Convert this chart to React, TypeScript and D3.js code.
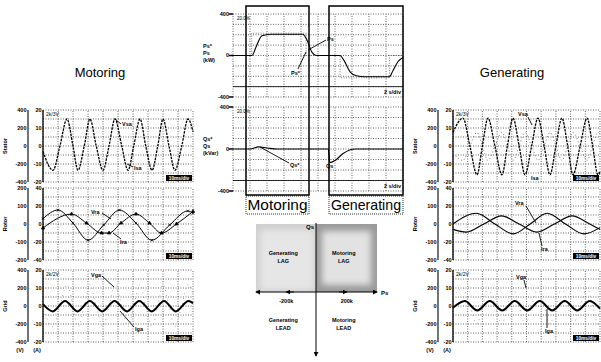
import React from 'react';
import * as d3 from 'd3';

// time in scope divisions (0..10), amplitude in divisions (-4..4)
const motStatorT = [0, 0.67, 1.13, 1.6, 2.0, 2.33, 2.75, 3.13, 3.55, 4.0, 4.4, 4.8, 5.25, 5.67, 6.05, 6.47, 6.85, 7.27, 7.65, 8.0, 8.4, 8.8, 9.25, 9.67, 10];
const motStatorV = [-0.6, -2.7, 0, 3.0, 0, -2.7, 0, 3.0, 0, -2.7, 0, 3.0, 0, -2.7, 0, 3.0, 0, -2.7, 0, 3.0, 0, -2.7, 0, 3.0, 1.6];
const motRotorVT = [0, 1.0, 2.0, 3.0, 4.05, 5.1, 6.2, 7.25, 8.45, 9.65, 10];
const motRotorVV = [0.6, 1.55, 0.1, -1.8, -0.1, 1.55, 0.1, -1.8, -0.1, 1.45, 1.2];
const motRotorIT = [0, 1.9, 2.9, 3.9, 4.4, 5.2, 6.2, 7.1, 7.9, 8.9, 10];
const motRotorIV = [-0.45, 1.1, 0.1, -1.0, -1.0, 0.1, 1.1, 0.1, -1.0, 0, 1.4];
const motGridT = [0, 0.65, 1.47, 2.3, 3.12, 3.95, 4.77, 5.6, 6.42, 7.25, 8.07, 8.85, 9.7, 10];
const motGridV = [0.2, -0.6, 0.55, -0.6, 0.55, -0.6, 0.55, -0.6, 0.55, -0.6, 0.55, -0.6, 0.55, 0.3];
const motGridIV = [-0.4, -2.3, 0, 2.4, 0, -2.3, 0, 2.4, 0, -2.3, 0, 2.4, 0, -2.3, 0, 2.4, 0, -2.3, 0, 2.4, 0, -2.3, 0, 2.4, 1.2];

const genStatorT = [0, 0.68, 1.15, 1.63, 2.0, 2.38, 2.85, 3.33, 3.7, 4.08, 4.5, 4.9, 5.35, 5.78, 6.2, 6.6, 7.0, 7.41, 7.8, 8.16, 8.65, 9.12, 9.5, 9.86, 10];
const genStatorV = [1.5, 3.1, 0, -3.2, 0, 3.1, 0, -3.2, 0, 3.1, 0, -3.2, 0, 3.1, 0, -3.2, 0, 3.1, 0, -3.2, 0, 3.1, 0, -3.2, -2.9];
const genStatorIV = [-0.8, -1.6, 0, 1.5, 0, -1.6, 0, 1.5, 0, -1.6, 0, 1.5, 0, -1.6, 0, 1.5, 0, -1.6, 0, 1.5, 0, -1.6, 0, 1.5, 1.3];
const genRotorVT = [0, 1.6, 2.85, 4.1, 5.25, 6.4, 7.65, 8.9, 10];
const genRotorVV = [0, 1.2, 0, -1.1, 0, 1.2, 0, -1.1, -0.4];
const genRotorIT = [0, 0.9, 2.1, 3.3, 4.5, 5.7, 6.9, 8.1, 9.3, 10];
const genRotorIV = [-0.6, -0.9, 0, 0.9, 0, -0.9, 0, 0.9, 0, -0.6];
const genGridT = [0, 0.8, 1.65, 2.5, 3.35, 4.2, 5.05, 5.9, 6.75, 7.6, 8.45, 9.3, 10];
const genGridV = [-0.2, 0.55, -0.5, 0.55, -0.5, 0.55, -0.5, 0.55, -0.5, 0.55, -0.5, 0.55, -0.3];
const genGridIV = [1.0, 2.0, 0, -2.0, 0, 2.0, 0, -2.0, 0, 2.0, 0, -2.0, 0, 2.0, 0, -2.0, 0, 2.0, 0, -2.0, 0, 2.0, 0, -2.0, -1.6];

// center traces: time in divisions (2 s/div), power in kW / kVar
const psT = [0, 1.12, 1.35, 1.7, 2.2, 4.1, 4.35, 4.65, 4.9, 6.3, 6.5, 6.9, 7.25, 7.75, 9.2, 9.4, 9.7, 10];
const psV = [0, 0, 80, 190, 205, 205, 150, 30, 0, 0, -40, -160, -195, -205, -205, -150, -60, -20];
const psRefT = [0, 1.1, 1.1, 4.3, 4.3, 6.3, 6.3, 9.2, 9.2, 10];
const psRefV = [0, 0, 215, 215, 0, 0, -215, -215, 0, 0];
const qsT = [0, 1.0, 1.5, 2.0, 2.6, 5.6, 5.7, 6.0, 6.5, 7.2, 10];
const qsV = [0, 0, 20, 10, 0, 0, -130, -110, -40, 0, 0];

const statorVTicks = ['400', '200', '0', '-200', '-400'];
const statorATicks = ['20', '10', '0', '-10', '-20'];
const rotorVTicks = ['200', '100', '0', '-100', '-200'];
const rotorATicks = ['40', '20', '0', '-20', '-40'];
const gridVTicks = ['400', '200', '0', '-200', '-400'];
const gridATicks = ['20', '10', '0', '-10', '-20'];
const centerTicks = [400, 0, -400];

const FONT = "'Liberation Sans', Arial, sans-serif";

type Trace = { t: number[]; v: number[]; w?: number; dash?: string; color?: string; marker?: string };
type Note = { s: string; x: number; y: number; l?: number[] };

const zip = (t: number[], v: number[]) => d3.zip(t, v) as [number, number][];

function Grid({ xs, ys, xd, yd }: any) {
  return (
    <g>
      {xd.map((i: number) => (
        <line key={'gx' + i} x1={xs(i)} x2={xs(i)} y1={ys(yd[0])} y2={ys(yd[yd.length - 1])}
          stroke="#222" strokeWidth={0.7} strokeDasharray="1,1.5" />
      ))}
      {yd.map((i: number) => (
        <line key={'gy' + i} x1={xs(xd[0])} x2={xs(xd[xd.length - 1])} y1={ys(i)} y2={ys(i)}
          stroke="#222" strokeWidth={0.7} strokeDasharray="1,1.5" />
      ))}
    </g>
  );
}

function Notes({ notes }: { notes: Note[] }) {
  return (
    <g>
      {notes.map((n, i) => (
        <g key={i}>
          {n.l && <line x1={n.l[0]} y1={n.l[1]} x2={n.l[2]} y2={n.l[3]} stroke="#000" strokeWidth={0.9} />}
          <text x={n.x} y={n.y} fontSize={5.5} fontWeight="bold" fontFamily={FONT}>{n.s}</text>
        </g>
      ))}
    </g>
  );
}

function Scope({ x, y, w, h, name, vTicks, aTicks, traces, notes, stamp }: any) {
  const xs = d3.scaleLinear().domain([0, 10]).range([x, x + w]);
  const ys = d3.scaleLinear().domain([-4, 4]).range([y + h, y]);
  const line = d3.line<[number, number]>().x(d => xs(d[0])).y(d => ys(d[1])).curve(d3.curveMonotoneX);
  const tickVals = [4, 2, 0, -2, -4];
  return (
    <g>
      <Grid xs={xs} ys={ys} xd={d3.range(0, 11)} yd={d3.range(-4, 5)} />
      <line x1={x} x2={x} y1={y} y2={y + h} stroke="#000" strokeWidth={1.3} />
      <line x1={x - 15} x2={x - 15} y1={y} y2={y + h} stroke="#000" strokeWidth={1.1} />
      {tickVals.map((v, i) => (
        <g key={'t' + i}>
          <text x={x - 16.5} y={ys(v)} dy="0.35em" textAnchor="end" fontSize={5.5} fontWeight="bold" fontFamily={FONT}>{vTicks[i]}</text>
          <text x={x - 1.5} y={ys(v)} dy="0.35em" textAnchor="end" fontSize={5.5} fontWeight="bold" fontFamily={FONT}>{aTicks[i]}</text>
        </g>
      ))}
      <text transform={`translate(${x - 36},${y + h / 2}) rotate(-90)`} textAnchor="middle" fontSize={5.5}
        fontWeight="bold" fontFamily={FONT}>{name}</text>
      {traces.map((tr: Trace, i: number) => (
        <g key={'tr' + i}>
          <path d={line(zip(tr.t, tr.v)) || ''} fill="none" stroke={tr.color || '#000'}
            strokeWidth={tr.w || 1} strokeDasharray={tr.dash} />
          {tr.marker && tr.t.map((t, j) => (
            <path key={j} transform={`translate(${xs(t)},${ys(tr.v[j])})`}
              d={d3.symbol().type(tr.marker === 'cross' ? d3.symbolX : d3.symbolTriangle).size(5)() || ''}
              fill={tr.marker === 'cross' ? 'none' : '#000'} stroke="#000" strokeWidth={0.7} />
          ))}
        </g>
      ))}
      <text x={x + 3} y={y + 6} fontSize={5} fontFamily={FONT}>{stamp}</text>
      <rect x={x + w - 27} y={y + h - 7} width={26} height={6} fill="#000" />
      <text x={x + w - 14} y={y + h - 2.3} textAnchor="middle" fontSize={4.8} fontWeight="bold" fill="#fff" fontFamily={FONT}>10ms/div</text>
      <Notes notes={notes} />
    </g>
  );
}

function CenterScope({ y0, y1, labels, traces, notes }: any) {
  const x0 = 233, x1 = 403;
  const xs = d3.scaleLinear().domain([0, 10]).range([x0, x1]);
  const ys = d3.scaleLinear().domain([-400, 400]).range([y1, y0]);
  return (
    <g>
      <Grid xs={xs} ys={ys} xd={d3.range(0, 11)} yd={d3.range(-400, 401, 100)} />
      <line x1={x0} x2={x1} y1={ys(-300)} y2={ys(-300)} stroke="#000" strokeWidth={0.8} />
      {centerTicks.map(v => (
        <g key={v}>
          <line x1={x0 - 4} x2={x0} y1={ys(v)} y2={ys(v)} stroke="#000" strokeWidth={1.5} />
          <text x={x0 - 4} y={ys(v)} dy="0.35em" textAnchor="end" fontSize={5.5} fontWeight="bold" fontFamily={FONT}>{v}</text>
        </g>
      ))}
      {labels.map((s: string, i: number) => (
        <text key={s} x={203} y={ys(0) - 8 + i * 7} fontSize={5.5} fontWeight="bold" fontFamily={FONT}>{s}</text>
      ))}
      {traces.map((tr: any, i: number) => {
        const line = d3.line<[number, number]>().x(d => xs(d[0])).y(d => ys(d[1]))
          .curve(tr.step ? d3.curveLinear : d3.curveMonotoneX);
        return <path key={i} d={line(zip(tr.t, tr.v)) || ''} fill="none" stroke={tr.color || '#000'}
          strokeWidth={tr.w || 1} strokeDasharray={tr.dash} />;
      })}
      <text x={x0 + 4} y={y0 + 6} fontSize={4.5} fontFamily={FONT}>20.0%</text>
      <text x={x1 - 2} y={y1 - 3} textAnchor="end" fontSize={5.5} fontWeight="bold" fontFamily={FONT}>2 s/div</text>
      <Notes notes={notes} />
    </g>
  );
}

function Quadrant() {
  const cx = 316, cy = 292;
  const qx = d3.scaleLinear().domain([-400, 400]).range([256, 377]);
  const qtext = [
    ['Generating', 'LAG', -200, 255], ['Motoring', 'LAG', 200, 255],
    ['Generating', 'LEAD', -200, 322], ['Motoring', 'LEAD', 200, 322],
  ] as [string, string, number, number][];
  return (
    <g>
      <defs>
        <filter id="soft" x="-20%" y="-20%" width="140%" height="140%">
          <feGaussianBlur stdDeviation="3" />
        </filter>
        <marker id="arr" viewBox="0 0 6 6" refX="5" refY="3" markerWidth="5" markerHeight="5" orient="auto-start-reverse">
          <path d="M0,0 L6,3 L0,6 z" fill="#000" />
        </marker>
      </defs>
      <rect x={256} y={224} width={cx - 256} height={cy - 224} fill="#cfcfcf" />
      <rect x={260} y={230} width={cx - 262} height={cy - 232} fill="#e6e6e6" filter="url(#soft)" />
      <rect x={cx} y={224} width={377 - cx} height={cy - 224} fill="#9a9a9a" />
      <rect x={cx + 6} y={231} width={377 - cx - 12} height={cy - 238} fill="#e2e2e2" filter="url(#soft)" />
      <line x1={qx(-400)} x2={qx(400)} y1={cy} y2={cy} stroke="#000" strokeWidth={1}
        markerStart="url(#arr)" markerEnd="url(#arr)" />
      <line x1={qx(-200)} x2={qx(-150)} y1={cy} y2={cy} stroke="#000" markerStart="url(#arr)" />
      <line x1={qx(150)} x2={qx(200)} y1={cy} y2={cy} stroke="#000" markerEnd="url(#arr)" />
      <line x1={cx} x2={cx} y1={223} y2={356} stroke="#000" strokeWidth={1} markerEnd="url(#arr)" />
      <text x={cx - 2} y={229} textAnchor="end" fontSize={6} fontWeight="bold" fontFamily={FONT}>Qs</text>
      <text x={381} y={294.5} fontSize={6} fontWeight="bold" fontFamily={FONT}>Ps</text>
      <text x={qx(-200)} y={303} textAnchor="middle" fontSize={5.5} fontWeight="bold" fontFamily={FONT}>-200k</text>
      <text x={qx(200)} y={303} textAnchor="middle" fontSize={5.5} fontWeight="bold" fontFamily={FONT}>200k</text>
      {qtext.map(([a, b, v, y], i) => (
        <g key={i}>
          <text x={qx(v) - 3} y={y} textAnchor="middle" fontSize={5.5} fontWeight="bold" fontFamily={FONT}>{a}</text>
          <text x={qx(v) - 3} y={y + 7.5} textAnchor="middle" fontSize={5.5} fontWeight="bold" fontFamily={FONT}>{b}</text>
        </g>
      ))}
    </g>
  );
}

export default function App() {
  const LX = 43, LW = 150, RX = 453, RW = 147, PH = 72;
  const rows = [110, 188, 270];
  return (
    <svg width={601} height={362} style={{ position: 'absolute', left: 0, top: 0, background: '#fff' }}>
      <rect width={601} height={362} fill="#fff" />
      <text x={100} y={77} textAnchor="middle" fontSize={13} fontFamily={FONT}>Motoring</text>
      <text x={512} y={77} textAnchor="middle" fontSize={13} fontFamily={FONT}>Generating</text>

      <Scope x={LX} y={rows[0]} w={LW} h={PH} name="Stator" vTicks={statorVTicks} aTicks={statorATicks} stamp="2k/3V"
        traces={[{ t: motStatorT, v: motStatorV, w: 1.3, dash: '2.5,1' }]}
        notes={[{ s: 'Vsa', x: 122, y: 126, l: [121, 124, 116, 120] }, { s: 'Isa', x: 134, y: 170, l: [133, 167, 127, 164] }]} />
      <Scope x={LX} y={rows[1]} w={LW} h={PH} name="Rotor" vTicks={rotorVTicks} aTicks={rotorATicks} stamp=""
        traces={[{ t: motRotorVT, v: motRotorVV, w: 1, marker: 'cross' }, { t: motRotorIT, v: motRotorIV, w: 1, marker: 'tri' }]}
        notes={[{ s: 'Vra', x: 91, y: 214, l: [102, 213, 111, 219] }, { s: 'Ira', x: 120, y: 244, l: [121, 239, 113, 233] }]} />
      <Scope x={LX} y={rows[2]} w={LW} h={PH} name="Grid" vTicks={gridVTicks} aTicks={gridATicks} stamp="2k/2V"
        traces={[{ t: motStatorT, v: motGridIV, w: 0.8, dash: '0.8,4', color: '#777' },
        { t: motGridT, v: motGridV, w: 2 }]}
        notes={[{ s: 'Vga', x: 91, y: 277, l: [102, 276, 114, 287] }, { s: 'Iga', x: 135, y: 331, l: [134, 327, 120, 311] }]} />

      <Scope x={RX} y={rows[0]} w={RW} h={PH} name="Stator" vTicks={statorVTicks} aTicks={statorATicks} stamp="2k/3V"
        traces={[{ t: genStatorT, v: genStatorIV, w: 0.8, dash: '1,2.5', color: '#555' },
        { t: genStatorT, v: genStatorV, w: 1.3, dash: '2.5,1' }]}
        notes={[{ s: 'Vsa', x: 518, y: 116, l: [528, 117, 532, 125] }, { s: 'Isa', x: 531, y: 180 }]} />
      <Scope x={RX} y={rows[1]} w={RW} h={PH} name="Rotor" vTicks={rotorVTicks} aTicks={rotorATicks} stamp=""
        traces={[{ t: genRotorVT, v: genRotorVV, w: 1.1 }, { t: genRotorIT, v: genRotorIV, w: 1.1 }]}
        notes={[{ s: 'Vra', x: 515, y: 205, l: [526, 206, 536, 223] }, { s: 'Ira', x: 541, y: 251, l: [542, 246, 539, 233] }]} />
      <Scope x={RX} y={rows[2]} w={RW} h={PH} name="Grid" vTicks={gridVTicks} aTicks={gridATicks} stamp="2k/2V"
        traces={[{ t: genStatorT, v: genGridIV, w: 0.8, dash: '0.8,4', color: '#777' },
        { t: genGridT, v: genGridV, w: 2 }]}
        notes={[{ s: 'Vga', x: 516, y: 279, l: [524, 280, 526, 288] }, { s: 'Iga', x: 545, y: 333, l: [547, 328, 547, 309] }]} />

      {[[20, '(V)'], [37, '(A)'], [430, '(V)'], [447, '(A)']].map(([x, s], i) => (
        <text key={i} x={x as number} y={352} textAnchor="middle" fontSize={5.5} fontWeight="bold" fontFamily={FONT}>{s}</text>
      ))}

      <CenterScope y0={14} y1={97} labels={['Ps*', 'Ps', '(kW)']}
        traces={[{ t: psRefT, v: psRefV, w: 0.7, dash: '1,1.5', color: '#444', step: true }, { t: psT, v: psV, w: 1.1 }]}
        notes={[{ s: 'Ps*', x: 291, y: 75, l: [298, 69, 306, 52] }, { s: 'Ps', x: 327, y: 41, l: [326, 40, 308, 50] }]} />
      <CenterScope y0={107} y1={191} labels={['Qs*', 'Qs', '(kVar)']}
        traces={[{ t: qsT, v: qsV, w: 1.1 }]}
        notes={[{ s: 'Qs*', x: 290, y: 167, l: [289, 163, 260, 147] }, { s: 'Qs', x: 326, y: 168 }]} />

      <rect x={246} y={6} width={63} height={189} fill="none" stroke="#000" strokeWidth={1.5} />
      <rect x={329} y={6} width={74} height={189} fill="none" stroke="#000" strokeWidth={1.5} />
      <rect x={246} y={196} width={63} height={18} fill="#fff" stroke="#000" strokeWidth={0.8} strokeDasharray="1,1" />
      <rect x={329} y={196} width={74} height={18} fill="#fff" stroke="#000" strokeWidth={0.8} strokeDasharray="1,1" />
      <text x={277.5} y={210} textAnchor="middle" fontSize={15} fontFamily={FONT} textLength={60} lengthAdjust="spacingAndGlyphs">Motoring</text>
      <text x={366} y={210} textAnchor="middle" fontSize={15} fontFamily={FONT} textLength={70} lengthAdjust="spacingAndGlyphs">Generating</text>

      <Quadrant />
    </svg>
  );
}
